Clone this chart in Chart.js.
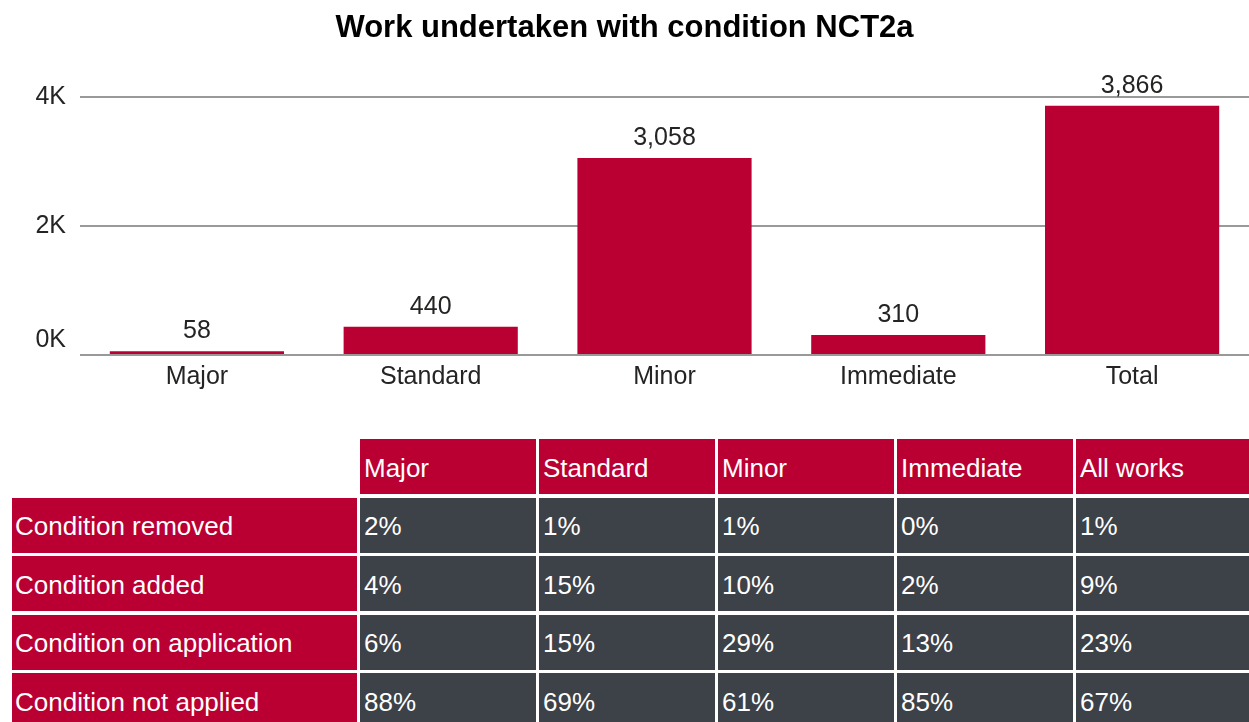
<!DOCTYPE html>
<html>
<head>
<meta charset="utf-8">
<script src="https://cdn.jsdelivr.net/npm/chart.js@4/dist/chart.umd.min.js"></script>
<style>
  html, body { margin: 0; padding: 0; background: #ffffff; }
  body { width: 1249px; height: 722px; overflow: hidden; position: relative;
         font-family: "Liberation Sans", Arial, sans-serif; }
  #chartBox { position: absolute; left: 0; top: 0; width: 1249px; height: 400px; }
  #summary { position: absolute; left: 12px; top: 439px;
             display: grid; grid-template-columns: 345px repeat(5, 176px);
             grid-auto-rows: 55px; column-gap: 3px; row-gap: 3.5px; }
  #summary div { color: #ffffff; font-size: 26px; display: flex; align-items: center;
                 padding-left: 4px; padding-top: 3px; box-sizing: border-box;
                 white-space: nowrap; overflow: hidden; }
  #summary .head, #summary .rowhead { background: #ba0032; }
  #summary .rowhead { padding-left: 3px; }
  #summary .cell { background: #3d4148; }
  #summary .blank { background: transparent; }
</style>
</head>
<body>
<div id="chartBox"><canvas id="workChart" width="1249" height="400"></canvas></div>
<div id="summary"></div>
<script>
// Bar chart values
const categories = ['Major', 'Standard', 'Minor', 'Immediate', 'Total'];
const workCounts = [58, 440, 3058, 310, 3866];
const yTickValues = [0, 2000, 4000];
const yTickLabels = ['0K', '2K', '4K'];

// Summary table (percent of works)
const tableColumns = ['Major', 'Standard', 'Minor', 'Immediate', 'All works'];
const rowLabels = ['Condition removed', 'Condition added', 'Condition on application', 'Condition not applied'];
const removedPct = [2, 1, 1, 0, 1];
const addedPct = [4, 15, 10, 2, 9];
const onApplicationPct = [6, 15, 29, 13, 23];
const notAppliedPct = [88, 69, 61, 85, 67];

const FONT = '"Liberation Sans", Arial, sans-serif';
const BAR_RED = '#ba0032';
const TEXT_DARK = '#252423';

// Value labels above each bar
const valueLabels = {
  id: 'valueLabels',
  afterDatasetsDraw(chart) {
    const ctx = chart.ctx;
    const meta = chart.getDatasetMeta(0);
    const values = chart.data.datasets[0].data;
    ctx.save();
    ctx.font = '25px ' + FONT;
    ctx.fillStyle = TEXT_DARK;
    ctx.textAlign = 'center';
    ctx.textBaseline = 'alphabetic';
    meta.data.forEach((bar, i) => {
      ctx.fillText(values[i].toLocaleString('en-US'), bar.x, bar.y - 13);
    });
    ctx.restore();
  }
};

// Y tick labels, kept above the baseline for the zero tick
const yLabels = {
  id: 'yLabels',
  afterDraw(chart) {
    const ctx = chart.ctx;
    const y = chart.scales.y;
    ctx.save();
    ctx.font = '25px ' + FONT;
    ctx.fillStyle = TEXT_DARK;
    ctx.textAlign = 'right';
    ctx.textBaseline = 'middle';
    yTickValues.forEach((v, i) => {
      const py = Math.min(y.getPixelForValue(v), chart.chartArea.bottom - 15);
      ctx.fillText(yTickLabels[i], 66, py);
    });
    ctx.restore();
  }
};

new Chart(document.getElementById('workChart'), {
  type: 'bar',
  data: {
    labels: categories,
    datasets: [{
      data: workCounts,
      backgroundColor: BAR_RED,
      borderWidth: 0,
      categoryPercentage: 1,
      barPercentage: 0.745
    }]
  },
  options: {
    responsive: false,
    animation: false,
    layout: { padding: 0 },
    plugins: {
      legend: { display: false },
      tooltip: { enabled: false },
      title: {
        display: true,
        text: 'Work undertaken with condition NCT2a',
        color: '#000000',
        font: { family: FONT, size: 31, weight: 'bold' },
        padding: { top: 10, bottom: 50 }
      }
    },
    scales: {
      x: {
        grid: { display: false, drawTicks: false },
        border: { display: false },
        ticks: { color: TEXT_DARK, font: { family: FONT, size: 25 }, padding: 7 },
        afterFit(scale) { scale.height = 45; }
      },
      y: {
        min: 0,
        max: 4000,
        afterBuildTicks(scale) { scale.ticks = yTickValues.map(v => ({ value: v })); },
        ticks: { display: false },
        grid: { color: '#999999', lineWidth: 2, drawTicks: false },
        border: { display: false },
        afterFit(scale) { scale.width = 80; }
      }
    }
  },
  plugins: [valueLabels, yLabels]
});

// Build the summary table
const summary = document.getElementById('summary');
function addCell(text, cls) {
  const d = document.createElement('div');
  d.className = cls;
  d.textContent = text;
  summary.appendChild(d);
}
addCell('', 'blank');
tableColumns.forEach(c => addCell(c, 'head'));
[removedPct, addedPct, onApplicationPct, notAppliedPct].forEach((row, r) => {
  addCell(rowLabels[r], 'rowhead');
  row.forEach(v => addCell(v + '%', 'cell'));
});
</script>
</body>
</html>
